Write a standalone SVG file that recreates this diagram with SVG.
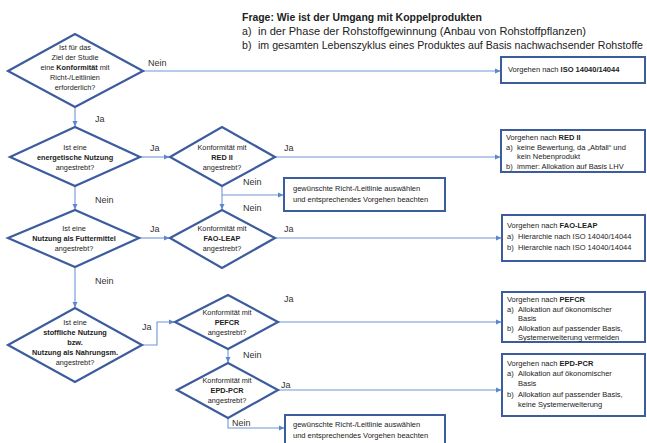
<svg xmlns="http://www.w3.org/2000/svg" width="647" height="443" viewBox="0 0 647 443">
<style>
text{font-family:"Liberation Sans",Arial,sans-serif;fill:#222}
.h{font-size:10.6px}
.hb{font-size:10.5px;font-weight:bold}
.d{font-size:7.3px;text-anchor:middle}
.b{font-weight:bold}
.t{font-size:7.5px}
.l{font-size:9px;fill:#333}
.dia{fill:#fff;stroke:#3d5c9e;stroke-width:2.2}
.box{fill:#fff;stroke:#3d5c9e;stroke-width:2}
.c{fill:none;stroke:#6f97d6;stroke-width:1.1}
</style>
<defs>
<marker id="a" markerWidth="6" markerHeight="6" refX="5" refY="3" orient="auto" markerUnits="userSpaceOnUse">
<path d="M0,0.5 L5.5,3 L0,5.5 Z" fill="#5b86d0"/>
</marker>
</defs>
<g id="header">
<text class="hb" x="242" y="21" textLength="240" lengthAdjust="spacingAndGlyphs">Frage: Wie ist der Umgang  mit Koppelprodukten</text>
<text class="h" x="242" y="35">a)</text><text class="h" x="258" y="35" textLength="328" lengthAdjust="spacingAndGlyphs">in der Phase der Rohstoffgewinnung  (Anbau  von Rohstoffpflanzen)</text>
<text class="h" x="242" y="49">b)</text><text class="h" x="258" y="49" textLength="385" lengthAdjust="spacingAndGlyphs">im gesamten Lebenszyklus  eines Produktes  auf Basis nachwachsender  Rohstoffe</text>
</g>
<g id="connectors">
<path class="c" d="M143,71 H500" marker-end="url(#a)"/>
<path class="c" d="M75,107 V126" marker-end="url(#a)"/>
<path class="c" d="M140,157 H169" marker-end="url(#a)"/>
<path class="c" d="M75,186 V209" marker-end="url(#a)"/>
<path class="c" d="M275,157 H500" marker-end="url(#a)"/>
<path class="c" d="M222,186 V209" marker-end="url(#a)"/>
<path class="c" d="M222,195 H283" marker-end="url(#a)"/>
<path class="c" d="M139,238 H169" marker-end="url(#a)"/>
<path class="c" d="M275,238 H501" marker-end="url(#a)"/>
<path class="c" d="M75,267 V307" marker-end="url(#a)"/>
<path class="c" d="M142,345 H157 V322 H174" marker-end="url(#a)"/>
<path class="c" d="M278,322 H501" marker-end="url(#a)"/>
<path class="c" d="M228,349 V362" marker-end="url(#a)"/>
<path class="c" d="M278,390 H501" marker-end="url(#a)"/>
<path class="c" d="M228,418 V428 H284" marker-end="url(#a)"/>
<text class="l" x="148" y="66">Nein</text>
<text class="l" x="95" y="122">Ja</text>
<text class="l" x="150" y="151">Ja</text>
<text class="l" x="95" y="203">Nein</text>
<text class="l" x="284" y="151">Ja</text>
<text class="l" x="243" y="185">Nein</text>
<text class="l" x="243" y="211">Nein</text>
<text class="l" x="150" y="232">Ja</text>
<text class="l" x="284" y="232">Ja</text>
<text class="l" x="95" y="284">Nein</text>
<text class="l" x="142" y="330">Ja</text>
<text class="l" x="284" y="302">Ja</text>
<text class="l" x="243" y="358">Nein</text>
<text class="l" x="281" y="388">Ja</text>
<text class="l" x="232" y="426">Nein</text>
</g>
<g id="q_konformitaet">
<polygon class="dia" points="8,71 75,34 143,71 75,107"/>
<text class="d" x="75" y="50">Ist für das</text>
<text class="d" x="75" y="60">Ziel der Studie</text>
<text class="d" x="75" y="70">eine <tspan class="b">Konformität</tspan> mit</text>
<text class="d" x="75" y="80">Richt-/Leitlinien</text>
<text class="d" x="75" y="90">erforderlich?</text>
</g>
<g id="q_energetisch">
<polygon class="dia" points="10,157 75,127 140,157 75,186"/>
<text class="d" x="75" y="150">Ist eine</text>
<text class="d b" x="75" y="160">energetische Nutzung</text>
<text class="d" x="75" y="170">angestrebt?</text>
</g>
<g id="q_futtermittel">
<polygon class="dia" points="8,238 75,210 139,238 75,267"/>
<text class="d" x="74" y="231">Ist eine</text>
<text class="d b" x="74" y="241">Nutzung als Futtermittel</text>
<text class="d" x="74" y="251">angestrebt?</text>
</g>
<g id="q_stofflich">
<polygon class="dia" points="8,345 75,308 142,345 75,382"/>
<text class="d" x="75" y="325">Ist eine</text>
<text class="d b" x="75" y="335">stoffliche Nutzung</text>
<text class="d b" x="75" y="345">bzw.</text>
<text class="d b" x="75" y="355">Nutzung als Nahrungsm.</text>
<text class="d" x="75" y="365">angestrebt?</text>
</g>
<g id="q_red">
<polygon class="dia" points="170,157 222,127 275,157 222,186"/>
<text class="d" x="222" y="150">Konformität mit</text>
<text class="d b" x="222" y="160">RED  II</text>
<text class="d" x="222" y="170">angestrebt?</text>
</g>
<g id="q_fao">
<polygon class="dia" points="170,238 222,210 275,238 222,268"/>
<text class="d" x="222" y="231">Konformität mit</text>
<text class="d b" x="222" y="241">FAO-LEAP</text>
<text class="d" x="222" y="251">angestrebt?</text>
</g>
<g id="q_pefcr">
<polygon class="dia" points="175,322 228,295 278,322 228,349"/>
<text class="d" x="227" y="315">Konformität mit</text>
<text class="d b" x="227" y="325">PEFCR</text>
<text class="d" x="227" y="335">angestrebt?</text>
</g>
<g id="q_epd">
<polygon class="dia" points="177,390 228,363 278,390 228,418"/>
<text class="d" x="227" y="383">Konformität mit</text>
<text class="d b" x="227" y="393">EPD-PCR</text>
<text class="d" x="227" y="403">angestrebt?</text>
</g>
<g id="r_iso">
<rect class="box" x="501" y="57" width="144" height="26"/>
<text class="t" x="508" y="72">Vorgehen nach <tspan class="b">ISO  14040/14044</tspan></text>
</g>
<g id="r_red">
<rect class="box" x="501" y="130" width="144" height="42"/>
<text class="t" x="506" y="140">Vorgehen nach <tspan class="b">RED  II</tspan></text>
<text class="t" x="506" y="149.5">a)</text><text class="t" x="517" y="149.5">keine Bewertung, da „Abfall“ und</text>
<text class="t" x="517" y="159">kein Nebenprodukt</text>
<text class="t" x="506" y="168.5">b)</text><text class="t" x="517" y="168.5">immer:  Allokation auf Basis LHV</text>
</g>
<g id="r_wahl1">
<rect class="box" x="284" y="178" width="161" height="33"/>
<text class="t" x="293" y="191">gewünschte Richt-/Leitlinie auswählen</text>
<text class="t" x="293" y="202">und entsprechendes Vorgehen beachten</text>
</g>
<g id="r_fao">
<rect class="box" x="502" y="215" width="143" height="46"/>
<text class="t" x="507" y="228">Vorgehen nach <tspan class="b">FAO-LEAP</tspan></text>
<text class="t" x="507" y="239">a)</text><text class="t" x="518" y="239">Hierarchie nach ISO  14040/14044</text>
<text class="t" x="507" y="250">b)</text><text class="t" x="518" y="250">Hierarchie nach ISO  14040/14044</text>
</g>
<g id="r_pefcr">
<rect class="box" x="502" y="292" width="143" height="50"/>
<text class="t" x="507" y="302">Vorgehen nach <tspan class="b">PEFCR</tspan></text>
<text class="t" x="507" y="311.5">a)</text><text class="t" x="518" y="311.5">Allokation  auf ökonomischer</text>
<text class="t" x="518" y="321">Basis</text>
<text class="t" x="507" y="330.5">b)</text><text class="t" x="518" y="330.5">Allokation  auf passender Basis,</text>
<text class="t" x="518" y="340">Systemerweiterung vermeiden</text>
</g>
<g id="r_epd">
<rect class="box" x="502" y="354" width="143" height="62"/>
<text class="t" x="507" y="366">Vorgehen nach <tspan class="b">EPD-PCR</tspan></text>
<text class="t" x="507" y="376">a)</text><text class="t" x="518" y="376">Allokation  auf ökonomischer</text>
<text class="t" x="518" y="386">Basis</text>
<text class="t" x="507" y="397">b)</text><text class="t" x="518" y="397">Allokation  auf passender Basis,</text>
<text class="t" x="518" y="407">keine Systemerweiterung</text>
</g>
<g id="r_wahl2">
<rect class="box" x="285" y="415" width="160" height="32"/>
<text class="t" x="293" y="427">gewünschte Richt-/Leitlinie auswählen</text>
<text class="t" x="293" y="438">und entsprechendes Vorgehen beachten</text>
</g>
</svg>
